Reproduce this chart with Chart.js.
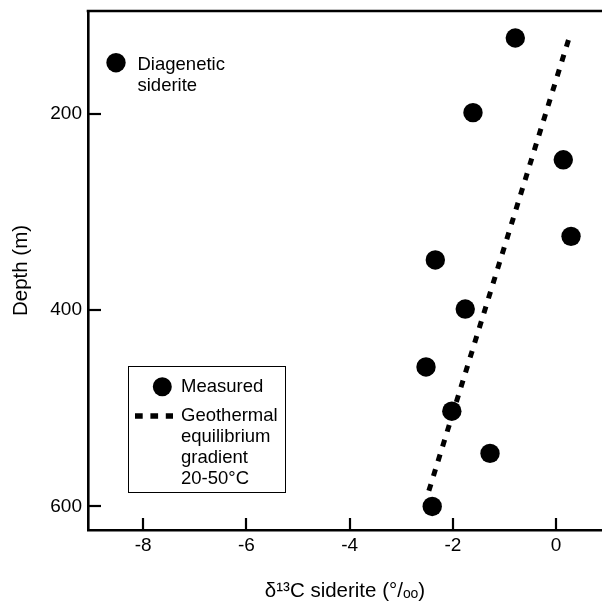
<!DOCTYPE html>
<html>
<head>
<meta charset="utf-8">
<script src="https://cdn.jsdelivr.net/npm/chart.js@4.4.1/dist/chart.umd.min.js"></script>
<style>
  html, body { margin: 0; padding: 0; background: #fff; }
  canvas { display: block; }
</style>
</head>
<body>
<canvas id="chart" width="602" height="605"></canvas>
<script>
// measured siderite samples
const deltaC13 = [-0.79, -1.61, 0.14, 0.29, -2.34, -1.76, -2.52, -2.02, -1.28, -2.40];
const depth = [123, 199, 247, 325, 349, 399, 458, 503, 546, 600];

// geothermal equilibrium gradient (end points)
const gradientC13 = [0.24, -2.5];
const gradientDepth = [125, 590];

const xTickValues = [-8, -6, -4, -2, 0];
const yTickValues = [200, 400, 600];

const keyLabel = ['Diagenetic', 'siderite'];
const legendMeasured = 'Measured';
const legendGradient = ['Geothermal', 'equilibrium', 'gradient', '20-50°C'];

const FONT = '"Liberation Sans", Arial, Helvetica, sans-serif';

// inward ticks, frame top line, key and legend box
const decorPlugin = {
  id: 'decor',
  afterDatasetsDraw(chart) {
    const ctx = chart.ctx;
    const area = chart.chartArea;
    const xs = chart.scales.x;
    const ys = chart.scales.y;
    ctx.save();
    ctx.strokeStyle = '#000';
    ctx.fillStyle = '#000';

    // top frame line
    ctx.lineWidth = 2.6;
    ctx.beginPath();
    ctx.moveTo(area.left - 1.3, area.top);
    ctx.lineTo(area.right, area.top);
    ctx.stroke();

    // tick marks pointing into the plot
    ctx.lineWidth = 2.2;
    xs.ticks.forEach(t => {
      const px = Math.round(xs.getPixelForValue(t.value));
      ctx.beginPath();
      ctx.moveTo(px, area.bottom);
      ctx.lineTo(px, area.bottom - 12);
      ctx.stroke();
    });
    ys.ticks.forEach(t => {
      const py = Math.round(ys.getPixelForValue(t.value));
      ctx.beginPath();
      ctx.moveTo(area.left, py);
      ctx.lineTo(area.left + 13, py);
      ctx.stroke();
    });

    ctx.font = '18.5px ' + FONT;
    ctx.textBaseline = 'middle';
    ctx.textAlign = 'left';

    // "Diagenetic siderite" key
    ctx.beginPath();
    ctx.arc(116, 62.7, 9.7, 0, Math.PI * 2);
    ctx.fill();
    ctx.fillText(keyLabel[0], 137.5, 65);
    ctx.fillText(keyLabel[1], 137.5, 86);

    // legend box
    ctx.lineWidth = 1;
    ctx.strokeRect(128.5, 366.5, 157, 126);
    ctx.beginPath();
    ctx.arc(162.3, 386.7, 9.5, 0, Math.PI * 2);
    ctx.fill();
    ctx.fillText(legendMeasured, 181, 387);

    ctx.lineWidth = 5.5;
    ctx.setLineDash([7.7, 7.7]);
    ctx.beginPath();
    ctx.moveTo(135, 416);
    ctx.lineTo(173, 416);
    ctx.stroke();
    ctx.setLineDash([]);
    legendGradient.forEach((s, i) => {
      ctx.fillText(s, 181, 416 + i * 21);
    });
    ctx.restore();
  }
};

new Chart(document.getElementById('chart'), {
  type: 'scatter',
  data: {
    datasets: [
      {
        label: 'Measured',
        data: deltaC13.map((x, i) => ({ x: x, y: depth[i] })),
        backgroundColor: '#000',
        borderWidth: 0,
        pointRadius: 9.7,
        pointHoverRadius: 9.7
      },
      {
        label: 'Geothermal equilibrium gradient 20-50°C',
        type: 'line',
        data: gradientC13.map((x, i) => ({ x: x, y: gradientDepth[i] })),
        borderColor: '#000',
        borderWidth: 5,
        borderDash: [7, 8.5],
        borderCapStyle: 'butt',
        pointRadius: 0,
        fill: false
      }
    ]
  },
  options: {
    responsive: false,
    animation: false,
    devicePixelRatio: 1,
    layout: { autoPadding: false, padding: { top: 11, right: 0, bottom: 0, left: 0 } },
    plugins: {
      legend: { display: false },
      tooltip: { enabled: false }
    },
    scales: {
      x: {
        type: 'linear',
        min: -9.07,
        max: 0.89,
        afterBuildTicks: s => { s.ticks = xTickValues.map(v => ({ value: v })); },
        afterFit: s => { s.height = 75; s.paddingLeft = 0; s.paddingRight = 0; },
        grid: { display: false, drawTicks: false },
        border: { display: true, color: '#000', width: 2.6 },
        ticks: {
          color: '#000',
          padding: 4,
          maxRotation: 0,
          font: { family: FONT, size: 19 }
        },
        title: {
          display: true,
          text: 'δ¹³C siderite (°/ₒₒ)',
          color: '#000',
          font: { family: FONT, size: 20.5 },
          padding: { top: 0, bottom: 1 }
        }
      },
      y: {
        type: 'linear',
        reverse: true,
        min: 95.5,
        max: 624,
        afterBuildTicks: s => { s.ticks = yTickValues.map(v => ({ value: v })); },
        afterFit: s => { s.width = 88; s.paddingTop = 0; s.paddingBottom = 0; },
        grid: { display: false, drawTicks: false },
        border: { display: true, color: '#000', width: 2.6 },
        ticks: {
          color: '#000',
          padding: 6,
          font: { family: FONT, size: 19 }
        },
        title: {
          display: true,
          text: 'Depth (m)',
          color: '#000',
          font: { family: FONT, size: 20.5 },
          padding: { top: 9, bottom: 0 }
        }
      }
    }
  },
  plugins: [decorPlugin]
});
</script>
</body>
</html>
